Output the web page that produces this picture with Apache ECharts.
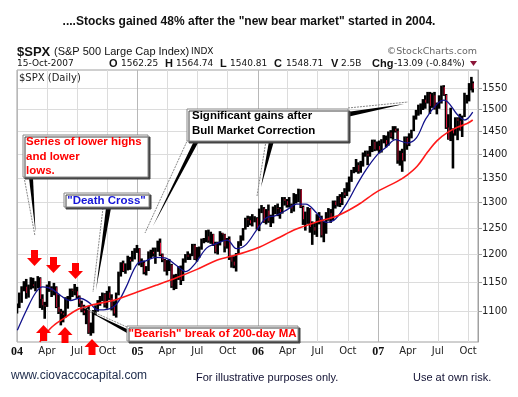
<!DOCTYPE html>
<html>
<head>
<meta charset="utf-8" />
<script src="https://cdn.jsdelivr.net/npm/echarts@6/dist/echarts.min.js"></script>
</head>
<body style="margin:0;background:#fff">
<div id="container" style="width:518px;height:397px;"></div>
<script type="text/javascript">
// weekly bars (one per week, last one is Mon 15-Oct-2007)
const weekClose = [
  1108,1122,1140,1142,1131, 1143,1146,1144,1145, 1157,1121,1110,1108, 1142,1139,1135,1141,1107, 1099,1096,1094,1121,
  1122,1137,1135,1134, 1125,1113,1101,1097,1102, 1064,1065,1099,1108, 1114,1124,1129,1110, 1132,1122,1108,1096,1130,
  1166,1184,1170,1183, 1191,1188,1194,1210,1212,
  1186,1185,1168,1171, 1203,1205,1202,1211, 1222,1200,1190,1171, 1173,1181,1143,1152,1157, 1171,1154,1189,1199,
  1196,1198,1217,1192, 1212,1212,1228,1229,1234, 1226,1238,1220,1205, 1218,1242,1238,1215,1229, 1196,1187,1180,1198,
  1220,1235,1248,1268, 1265,1259,1267,1269,1248,
  1286,1288,1262,1284, 1264,1267,1287,1289, 1287,1281,1307,1303,1295, 1295,1288,1311,1311, 1326,1291,1267,1280,
  1288,1252,1252,1245,1270, 1266,1236,1240,1279, 1279,1267,1302,1295, 1311,1299,1320,1315,1336, 1350,1366,1369,1377,
  1364,1381,1401,1401, 1397,1410,1427,1411,1418,
  1410,1431,1431,1422, 1448,1438,1456,1451, 1387,1403,1387,1436,1421, 1444,1453,1484,1494, 1506,1506,1523,1516,
  1536,1508,1533,1503,1503, 1530,1553,1534,1459, 1433,1454,1446,1479,1474, 1454,1484,1526,1527, 1558,1562,1549
];
const weekHigh = [
  1112,1131,1142,1151,1155, 1145,1158,1157,1151, 1160,1158,1128,1115, 1145,1151,1142,1148,1142, 1128,1103,1100,1123,
  1125,1138,1138,1146, 1141,1126,1117,1110,1105, 1108,1080,1101,1109, 1118,1125,1131,1130, 1134,1142,1128,1116,1131,
  1168,1185,1188,1183, 1197,1195,1206,1211,1217,
  1211,1192,1188,1178, 1205,1208,1212,1212, 1225,1229,1201,1191, 1189,1191,1182,1163,1164, 1178,1179,1192,1200,
  1205,1201,1219,1219, 1213,1214,1229,1230,1245, 1246,1242,1238,1223, 1223,1243,1240,1238,1230, 1233,1197,1196,1202,
  1224,1235,1249,1269, 1273,1272,1276,1272,1270,
  1287,1294,1290,1286, 1295,1275,1291,1294, 1297,1290,1310,1310,1306, 1310,1297,1318,1316, 1327,1326,1293,1281,
  1290,1288,1262,1259,1276, 1280,1273,1262,1280, 1288,1286,1303,1303, 1312,1316,1320,1328,1340, 1352,1366,1372,1389,
  1382,1385,1403,1407, 1407,1417,1431,1431,1427,
  1429,1432,1441,1440, 1449,1452,1461,1461, 1456,1407,1411,1438,1438, 1445,1453,1485,1498, 1510,1513,1523,1532,
  1540,1540,1538,1540,1515, 1532,1555,1556,1535, 1488,1503,1456,1481,1481, 1489,1485,1538,1533, 1561,1576,1565
];
const weekLow = [
  1097,1106,1115,1135,1122, 1124,1138,1140,1135, 1140,1106,1103,1088, 1108,1134,1125,1128,1106, 1096,1077,1082,1090,
  1105,1120,1125,1128, 1122,1108,1099,1094,1079, 1063,1060,1064,1094, 1100,1110,1118,1107, 1105,1120,1102,1093,1090,
  1128,1161,1169,1166, 1172,1173,1188,1192,1204,
  1181,1178,1165,1163, 1171,1194,1197,1184, 1206,1198,1187,1170, 1163,1171,1141,1137,1139, 1155,1146,1153,1186,
  1191,1191,1198,1191, 1188,1195,1210,1222,1224, 1223,1221,1217,1203, 1201,1218,1226,1205,1212, 1191,1177,1176,1170,
  1202,1217,1227,1248, 1253,1256,1254,1262,1248,
  1245,1280,1261,1258, 1261,1253,1260,1278, 1274,1269,1279,1295,1291, 1291,1280,1283,1299, 1302,1290,1257,1246,
  1259,1242,1219,1238,1234, 1258,1233,1224,1240, 1265,1261,1266,1289, 1293,1292,1296,1310,1314, 1323,1343,1361,1363,
  1360,1362,1375,1396, 1378,1396,1406,1408,1409,
  1403,1405,1425,1416, 1420,1436,1433,1449, 1381,1377,1364,1386,1411, 1419,1436,1452,1478, 1487,1490,1500,1503,
  1515,1491,1505,1501,1490, 1503,1515,1533,1457, 1433,1430,1371,1442,1432, 1453,1439,1484,1515, 1520,1546,1541
];

// moving averages
const ma50 = [
  ['2004-01-02',1068],['2004-01-30',1102],['2004-02-27',1132],['2004-03-19',1142],['2004-04-16',1138],
  ['2004-05-14',1126],['2004-06-11',1118],['2004-07-09',1122],['2004-08-06',1115],['2004-09-03',1102],
  ['2004-10-01',1103],['2004-10-29',1112],['2004-11-26',1140],['2004-12-31',1183],['2005-01-28',1189],
  ['2005-02-25',1195],['2005-03-25',1194],['2005-04-29',1180],['2005-05-27',1169],['2005-06-24',1183],
  ['2005-07-29',1212],['2005-08-26',1220],['2005-09-30',1227],['2005-10-28',1211],['2005-11-25',1218],
  ['2005-12-30',1248],['2006-01-27',1270],['2006-02-24',1274],['2006-03-31',1286],['2006-04-28',1297],
  ['2006-05-26',1297],['2006-06-30',1278],['2006-07-28',1261],['2006-08-25',1268],['2006-09-29',1300],
  ['2006-10-27',1334],['2006-11-24',1366],['2006-12-29',1399],['2007-01-26',1416],['2007-02-23',1432],
  ['2007-03-30',1425],['2007-04-27',1436],['2007-05-25',1478],['2007-06-29',1513],['2007-07-20',1522],
  ['2007-08-31',1487],['2007-09-21',1476],['2007-10-15',1494]
];
const ma200 = [
  ['2004-03-10',1049],['2004-04-15',1073],['2004-05-28',1090],['2004-06-30',1102],['2004-08-13',1110],
  ['2004-10-29',1120],['2004-12-31',1133],['2005-02-28',1145],['2005-04-29',1158],['2005-06-30',1173],
  ['2005-08-31',1190],['2005-10-31',1200],['2005-12-30',1212],['2006-02-28',1230],['2006-04-28',1248],
  ['2006-06-30',1262],['2006-08-31',1274],['2006-10-31',1295],['2006-12-29',1322],['2007-02-28',1343],
  ['2007-03-30',1356],['2007-04-30',1375],['2007-05-31',1405],['2007-06-29',1430],['2007-07-31',1448],
  ['2007-08-31',1460],['2007-09-28',1468],['2007-10-15',1476]
];

const priceTicks = [1100, 1150, 1200, 1250, 1300, 1350, 1400, 1450, 1500, 1550];
const monthNames = ['Jan','Feb','Mar','Apr','May','Jun','Jul','Aug','Sep','Oct','Nov','Dec'];

function ts(s) {
  const p = s.split('-');
  return new Date(+p[0], +p[1] - 1, +p[2]).getTime();
}

// calendar: middle of each trading week, then the last day
const weekDates = [];
for (let d = new Date(2004, 0, 1); d <= new Date(2007, 9, 11); d.setDate(d.getDate() + 7)) {
  weekDates.push(d.getTime());
}
weekDates.push(new Date(2007, 9, 15).getTime());

const quarterTicks = [];
const yearTicks = [];
for (let y = 2004; y <= 2007; y++) {
  for (let m = 0; m < 12; m += 3) quarterTicks.push(new Date(y, m, 1).getTime());
  yearTicks.push(new Date(y, 0, 1).getTime());
}

const bars = weekDates.map(function (t, i) {
  return [t, weekClose[i], weekLow[i], weekHigh[i]];
});
const ma50Data = ma50.map(function (p) { return [ts(p[0]), p[1]]; });
const ma200Data = ma200.map(function (p) { return [ts(p[0]), p[1]]; });

const xMin = new Date(2004, 0, 1).getTime();
const xMax = new Date(2007, 9, 31).getTime();

var dom = document.getElementById('container');
var myChart = echarts.init(dom, null, { renderer: 'canvas' });

const sans = '"Liberation Sans", Arial, sans-serif';
const verd = '"DejaVu Sans", Verdana, sans-serif';

function txt(x, y, s, font, fill, align) {
  return {
    type: 'text', x: x, y: y, z: 100,
    style: { text: s, font: font, fill: fill, textAlign: align || 'left', textVerticalAlign: 'middle' }
  };
}
function box(x, y, w, h) {
  return {
    type: 'rect', z: 96,
    shape: { x: x, y: y, width: w, height: h },
    style: { fill: '#fff', stroke: '#888', lineWidth: 1, shadowColor: '#444', shadowOffsetX: 2, shadowOffsetY: 2, shadowBlur: 0 }
  };
}
function wedge(pts) {
  return { type: 'polygon', z: 95, shape: { points: pts }, style: { fill: '#000' } };
}
function dash(x1, y1, x2, y2) {
  return {
    type: 'line', z: 95, shape: { x1: x1, y1: y1, x2: x2, y2: y2 },
    style: { stroke: '#888', lineWidth: 1, lineDash: [2, 1] }
  };
}
function downArrow(cx, y0) {
  return {
    type: 'polygon', z: 90,
    shape: { points: [[cx - 3.5, y0], [cx + 3.5, y0], [cx + 3.5, y0 + 8], [cx + 7.5, y0 + 8], [cx, y0 + 16], [cx - 7.5, y0 + 8], [cx - 3.5, y0 + 8]] },
    style: { fill: '#ff0000' }
  };
}
function upArrow(cx, y0) {
  return {
    type: 'polygon', z: 90,
    shape: { points: [[cx, y0], [cx + 7.5, y0 + 8], [cx + 3.5, y0 + 8], [cx + 3.5, y0 + 16], [cx - 3.5, y0 + 16], [cx - 3.5, y0 + 8], [cx - 7.5, y0 + 8]] },
    style: { fill: '#ff0000' }
  };
}

const annFont = 'bold 11.5px ' + sans;

var option = {
  backgroundColor: '#fff',
  animation: false,
  grid: { left: 17, right: 40, top: 70, bottom: 55, show: true, borderColor: '#a0a0a0', borderWidth: 1 },
  xAxis: [{
    type: 'value',
    min: xMin,
    max: xMax,
    axisLine: { show: false },
    axisTick: { show: false, customValues: quarterTicks },
    splitLine: { show: true, lineStyle: { color: '#dcdcdc', width: 1 } },
    axisLabel: {
      customValues: quarterTicks,
      margin: 4,
      fontFamily: verd,
      fontSize: 10,
      color: '#222',
      formatter: function (v) {
        const d = new Date(v);
        if (d.getMonth() === 0) return '{yr|' + String(d.getFullYear()).slice(2) + '}';
        return monthNames[d.getMonth()];
      },
      rich: { yr: { fontFamily: '"Liberation Serif", serif', fontWeight: 'bold', fontSize: 12, color: '#111' } }
    }
  }, {
    type: 'value',
    min: xMin,
    max: xMax,
    position: 'bottom',
    axisLine: { show: false },
    axisTick: { show: false, customValues: yearTicks },
    axisLabel: { show: false },
    splitLine: { show: true, lineStyle: { color: '#b8b8b8', width: 1 } }
  }],
  yAxis: [{
    type: 'log',
    logBase: 10,
    min: 1049,
    max: 1594,
    position: 'right',
    axisLine: { show: true, lineStyle: { color: '#a0a0a0' } },
    axisTick: { show: true, length: 4, lineStyle: { color: '#a0a0a0' }, customValues: priceTicks },
    splitLine: { show: true, lineStyle: { color: '#dcdcdc', width: 1 } },
    axisLabel: {
      customValues: priceTicks,
      margin: 4,
      fontFamily: verd,
      fontSize: 10,
      color: '#222',
      formatter: function (v) { return String(Math.round(v)); }
    }
  }],
  series: [{
    type: 'custom',
    clip: true,
    data: bars,
    encode: { x: 0, y: [1, 2, 3] },
    renderItem: function (params, api) {
      const i = params.dataIndex;
      const lo = api.coord([api.value(0), api.value(2)]);
      const hi = api.coord([api.value(0), api.value(3)]);
      const kids = [{
        type: 'line',
        shape: { x1: lo[0], y1: lo[1] + 0.5, x2: lo[0], y2: hi[1] - 0.5 },
        style: { stroke: '#000', lineWidth: 2.6 }
      }];
      if (i > 0 && weekClose[i] < weekClose[i - 1]) {
        const top = api.coord([api.value(0), Math.min(weekClose[i - 1], weekHigh[i])]);
        const c = api.coord([api.value(0), weekClose[i]]);
        kids.push({
          type: 'line',
          shape: { x1: lo[0] + 0.5, y1: top[1], x2: lo[0] + 0.5, y2: c[1] },
          style: { stroke: '#dc143c', lineWidth: 1 }
        });
      }
      return { type: 'group', children: kids };
    },
    z: 2
  }, {
    name: 'MA50',
    type: 'line',
    data: ma50Data,
    showSymbol: false,
    smooth: 0.35,
    clip: true,
    lineStyle: { color: '#12128c', width: 1.3 },
    z: 3
  }, {
    name: 'MA200',
    type: 'line',
    data: ma200Data,
    showSymbol: false,
    smooth: 0.35,
    clip: true,
    lineStyle: { color: '#ff1a1a', width: 1.6 },
    z: 4
  }],
  graphic: [
    txt(249, 22, '....Stocks gained 48% after the "new bear market" started in 2004.', 'bold 12px ' + sans, '#111', 'center'),
    txt(17, 52, '$SPX', 'bold 13px ' + sans, '#111'),
    txt(54, 52, '(S&P 500 Large Cap Index)', '11px ' + sans, '#111'),
    txt(191, 52, 'INDX', '9px ' + verd, '#111'),
    txt(477, 52, '\u00a9StockCharts.com', '9.5px ' + verd, '#666', 'right'),
    txt(17, 64, '15-Oct-2007', '9px ' + verd, '#111'),
    txt(109, 64, 'O', 'bold 11px ' + sans, '#111'),
    txt(121, 64, '1562.25', '9px ' + verd, '#111'),
    txt(165, 64, 'H', 'bold 11px ' + sans, '#111'),
    txt(176, 64, '1564.74', '9px ' + verd, '#111'),
    txt(220, 64, 'L', 'bold 11px ' + sans, '#111'),
    txt(230, 64, '1540.81', '9px ' + verd, '#111'),
    txt(274, 64, 'C', 'bold 11px ' + sans, '#111'),
    txt(286, 64, '1548.71', '9px ' + verd, '#111'),
    txt(331, 64, 'V', 'bold 11px ' + sans, '#111'),
    txt(341, 64, '2.5B', '9px ' + verd, '#111'),
    txt(372, 64, 'Chg', 'bold 11px ' + sans, '#111'),
    txt(394, 64, '-13.09 (-0.84%)', '9px ' + verd, '#111'),
    { type: 'polygon', z: 100, shape: { points: [[470, 61], [477, 61], [473.5, 66]] }, style: { fill: '#8b1538' } },
    txt(19, 78, '$SPX (Daily)', '10px ' + verd, '#222'),

    // arrows
    downArrow(34.5, 250), downArrow(53.5, 257), downArrow(75.5, 263),
    upArrow(43.5, 325), upArrow(65, 327), upArrow(92, 339),

    // "Series of lower highs" callout
    dash(24, 177, 35, 236),
    wedge([[29, 178], [33, 178], [35.5, 232]]),
    box(23, 135, 125, 42),
    txt(26, 142, 'Series of lower highs', annFont, '#ff0000'),
    txt(26, 157, 'and lower', annFont, '#ff0000'),
    txt(26, 171, 'lows.', annFont, '#ff0000'),

    // "Death Cross" callout
    dash(103, 208, 93, 292),
    wedge([[106, 208], [111, 208], [96, 290]]),
    box(64, 193, 85, 14),
    txt(106.5, 200.5, '"Death Cross"', annFont, '#1515d8', 'center'),

    // "Significant gains" callout
    dash(188, 139, 145, 233),
    wedge([[194, 141], [199, 141], [153, 226]]),
    dash(266, 141, 257, 196),
    wedge([[269, 141], [274, 141], [261, 187]]),
    dash(348, 108, 408, 102),
    wedge([[347, 112], [347, 117], [404, 104]]),
    box(187, 109, 161, 32),
    txt(192, 116, 'Significant gains after', annFont, '#000'),
    txt(192, 131, 'Bull Market Correction', annFont, '#000'),

    // "Bearish" break callout
    dash(127, 327, 82, 307),
    wedge([[127, 329], [127, 333], [88, 311]]),
    box(127, 326, 171, 15),
    txt(212.5, 333.5, '"Bearish" break of 200-day MA', annFont, '#ff0000', 'center'),

    // footer
    txt(11, 376, 'www.ciovaccocapital.com', '12px ' + sans, '#1c2a4a'),
    txt(196, 378, 'For illustrative purposes only.', '11px ' + sans, '#111133'),
    txt(413, 378, 'Use at own risk.', '11px ' + sans, '#111133')
  ]
};

if (option && typeof option === 'object') {
  myChart.setOption(option);
}
window.addEventListener('resize', myChart.resize);
</script>
</body>
</html>
